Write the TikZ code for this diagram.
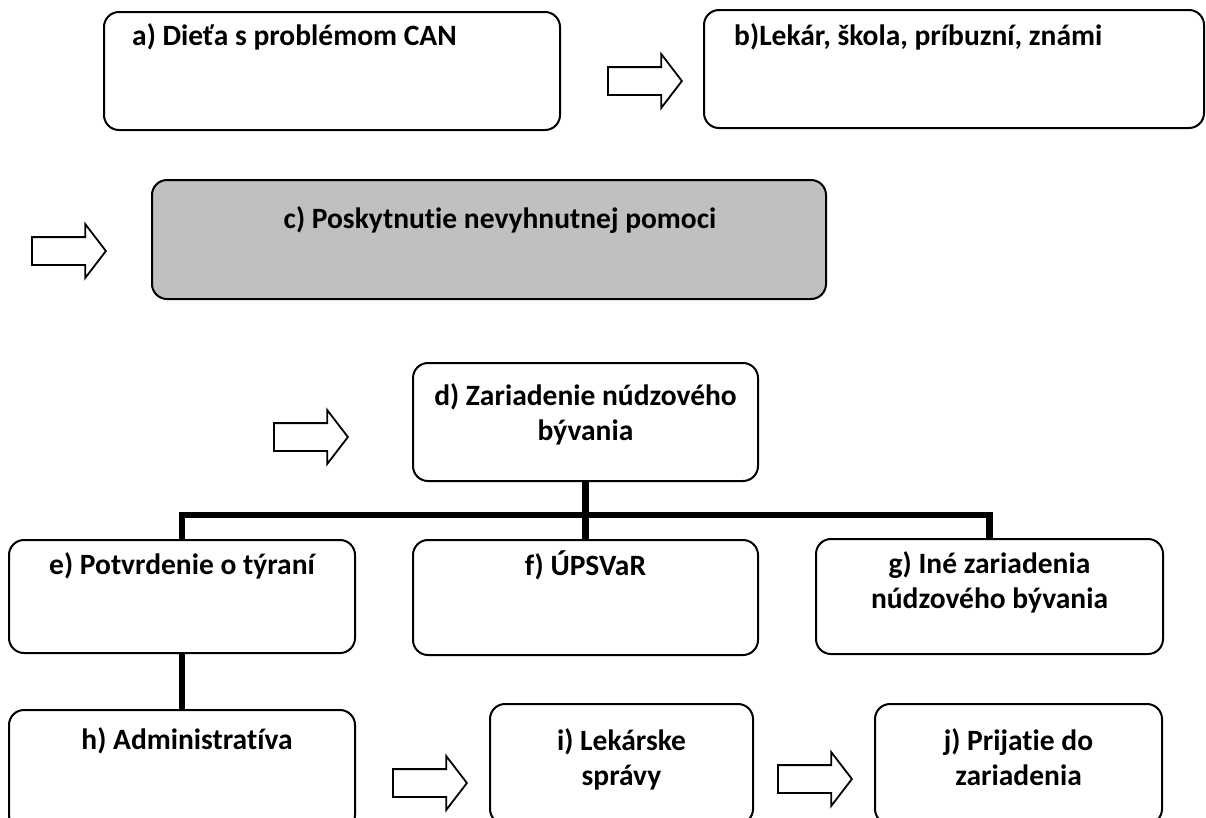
\documentclass[tikz,border=0pt]{standalone}
\usepackage{fontspec}
\setmainfont{Carlito}[Ligatures=NoCommon]
\usetikzlibrary{shapes.arrows,positioning}
\definecolor{boxgray}{RGB}{192,192,192}

\begin{document}
\begin{tikzpicture}[
  x=1pt, y=-1pt,
  font=\fontsize{29.5}{35}\selectfont\bfseries,
  box/.style={rectangle, rounded corners=15pt, draw=black, line width=2pt, fill=white, inner sep=0pt},
  shaded/.style={box, fill=boxgray},
  txt/.style={inner sep=0pt, align=center},
  bar/.style={line width=6.5pt},
  blockarr/.style={single arrow, draw=black, line width=1.8pt, fill=white, inner sep=13pt, minimum width=52pt, minimum height=74pt, single arrow head extend=13pt, single arrow tip angle=105, anchor=tail}
]
\useasboundingbox (0,0) rectangle (1206,817);
\node[box, minimum width=456pt, minimum height=118pt] (a) at (332,71) {};
\node[box, minimum width=500pt, minimum height=118pt] (b) at (954,69) {};
\node[shaded, minimum width=674pt, minimum height=119pt] (c) at (489,239.5) {};
\node[box, minimum width=345pt, minimum height=118pt] (d) at (585.5,422) {};
\node[box, minimum width=346pt, minimum height=113pt] (e) at (182,596.5) {};
\node[box, minimum width=345pt, minimum height=115pt] (f) at (585.5,597.5) {};
\node[box, minimum width=347pt, minimum height=115pt] (g) at (989.5,596.5) {};
\node[box, minimum width=346pt, minimum height=120pt] (h) at (182,770) {};
\node[box, minimum width=263pt, minimum height=120pt] (i) at (621.5,764) {};
\node[box, minimum width=287pt, minimum height=120pt] (j) at (1018.5,764) {};

\node[txt, below right=12pt and 29pt of a.north west] (a-t) {a) Dieťa s problémom CAN};
\node[txt, below right=14pt and 31pt of b.north west] (b-t) {b)Lekár, škola, príbuzní, známi};
\node[txt, below=27pt of c.north, xshift=11pt] (c-t) {c) Poskytnutie nevyhnutnej pomoci};
\node[txt, below=21pt of d.north] (d-t) {d) Zariadenie núdzového\\bývania};
\node[txt, below=13pt of e.north] (e-t) {e) Potvrdenie o týraní};
\node[txt, below=12pt of f.north] (f-t) {f) ÚPSVaR};
\node[txt, below=13pt of g.north] (g-t) {g) Iné zariadenia\\núdzového bývania};
\node[txt, below=18pt of h.north, xshift=5pt] (h-t) {h) Administratíva};
\node[txt, below=25pt of i.north] (i-t) {i) Lekárske\\správy};
\node[txt, below=25pt of j.north] (j-t) {j) Prijatie do\\zariadenia};

\node[blockarr] (arr-ab) at (607,81) {};
\node[blockarr] (arr-c) at (31,251) {};
\node[blockarr] (arr-d) at (273,437) {};
\node[blockarr] (arr-hi) at (392,783) {};
\node[blockarr] (arr-ij) at (777,779) {};

\coordinate (split) at (d.south |- 0,515);
\draw[bar] (d) -- (split);
\draw[bar] (e) |- (split) -| (g);
\draw[bar] (split) -- (f);
\draw[bar] (e) -- (h);
\end{tikzpicture}
\end{document}
